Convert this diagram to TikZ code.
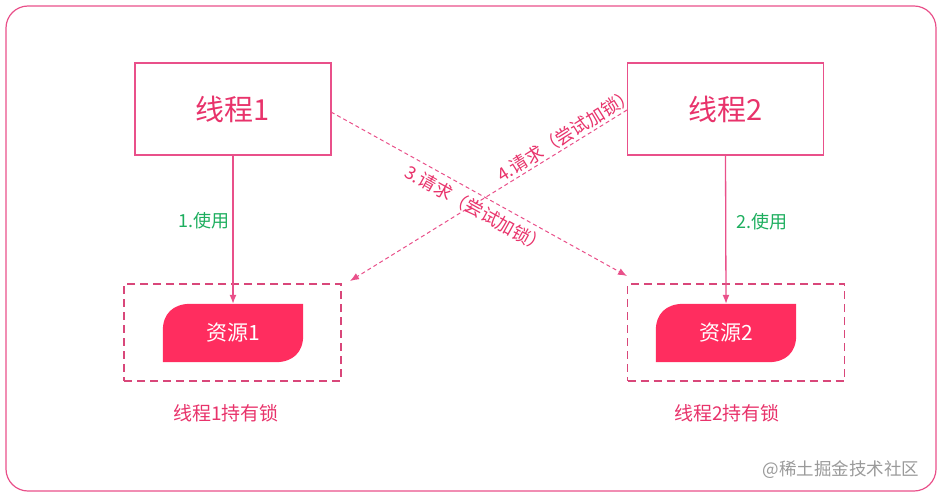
\documentclass[tikz,border=0pt]{standalone}
\usepackage{fontspec}
\setmainfont{Noto Sans CJK SC}
\usetikzlibrary{arrows.meta,calc}
\definecolor{pinkline}{HTML}{E9508A}
\definecolor{pinktext}{HTML}{E8336B}
\definecolor{resfill}{HTML}{FF2D5F}
\definecolor{greentext}{HTML}{1DAE5E}
\definecolor{dashbox}{HTML}{D9477A}
\definecolor{wm}{HTML}{9A9A9A}
\begin{document}
\begin{tikzpicture}[x=1pt,y=-1pt,
  thread/.style={draw=pinkline,line width=1.2pt,minimum width=196pt,minimum height=92pt,inner sep=0pt,
     text=pinktext,font=\fontsize{29}{34}\selectfont},
  holder/.style={draw=dashbox,line width=1.8pt,dash pattern=on 8pt off 5pt,minimum width=217pt,minimum height=97pt,inner sep=0pt},
  res/.style={minimum width=140pt,minimum height=58pt,inner sep=0pt,text=white,font=\fontsize{21}{25}\selectfont},
  usearrow/.style={draw=pinkline,line width=1.3pt,-{Latex[length=9pt,width=7pt]}},
  reqarrow/.style={draw=pinkline,line width=1pt,dash pattern=on 4pt off 3pt,-{Latex[length=9pt,width=7pt]}},
  uselabel/.style={text=greentext,font=\fontsize{18}{21}\selectfont},
  reqlabel/.style={text=pinktext,inner sep=1pt,font=\fontsize{18}{21}\selectfont},
  caption/.style={text=pinktext,font=\fontsize{19}{23}\selectfont}
]
\useasboundingbox (0,0) rectangle (941,497);
\draw[pinkline,line width=1.2pt,rounded corners=22pt] (6,6) rectangle (936,491);

\node[thread] (t1) at (233,109) {线程1};
\node[thread] (t2) at (725.5,109) {线程2};

\node[holder] (h1) at (232.5,332.5) {};
\node[holder] (h2) at (736,332.5) {};

\node[res] (r1) at (233,333) {};
\node[res] (r2) at (726,333) {};
\foreach \r in {r1,r2}{
  \fill[resfill] (\r.south west) -- ($(\r.north west)+(0,27)$)
    .. controls ($(\r.north west)+(0,10)$) and ($(\r.north west)+(10,0)$) .. ($(\r.north west)+(28,0)$)
    -- (\r.north east) -- ($(\r.south east)+(0,-27)$)
    .. controls ($(\r.south east)+(0,-10)$) and ($(\r.south east)+(-10,0)$) .. ($(\r.south east)+(-28,0)$)
    -- cycle;
}
\node[res] at (r1) {资源1};
\node[res] at (r2) {资源2};

\draw[usearrow] (t1.south) -- (r1.north);
\draw[usearrow] (t2.south) -- (r2.north);
\node[uselabel] (l1) at (204,221) {1.使用};
\node[uselabel] (l2) at (762,222) {2.使用};

\coordinate (s3) at (331,112);
\coordinate (e3) at (627,276);
\coordinate (s4) at (627,110);
\coordinate (e4) at (350,281);
\draw[reqarrow] (s3) -- (e3);
\draw[reqarrow] (s4) -- (e4);
\node[reqlabel,rotate=-29] (l3) at (476,209) {3.请求（尝试加锁）};
\node[reqlabel,rotate=32] (l4) at (566,135) {4.请求（尝试加锁）};

\node[caption] (c1) at (226,413) {线程1持有锁};
\node[caption] (c2) at (727,413) {线程2持有锁};

\node[text=wm,font=\fontsize{17.5}{21}\selectfont] (wm) at (841,470) {@稀土掘金技术社区};
\end{tikzpicture}
\end{document}
